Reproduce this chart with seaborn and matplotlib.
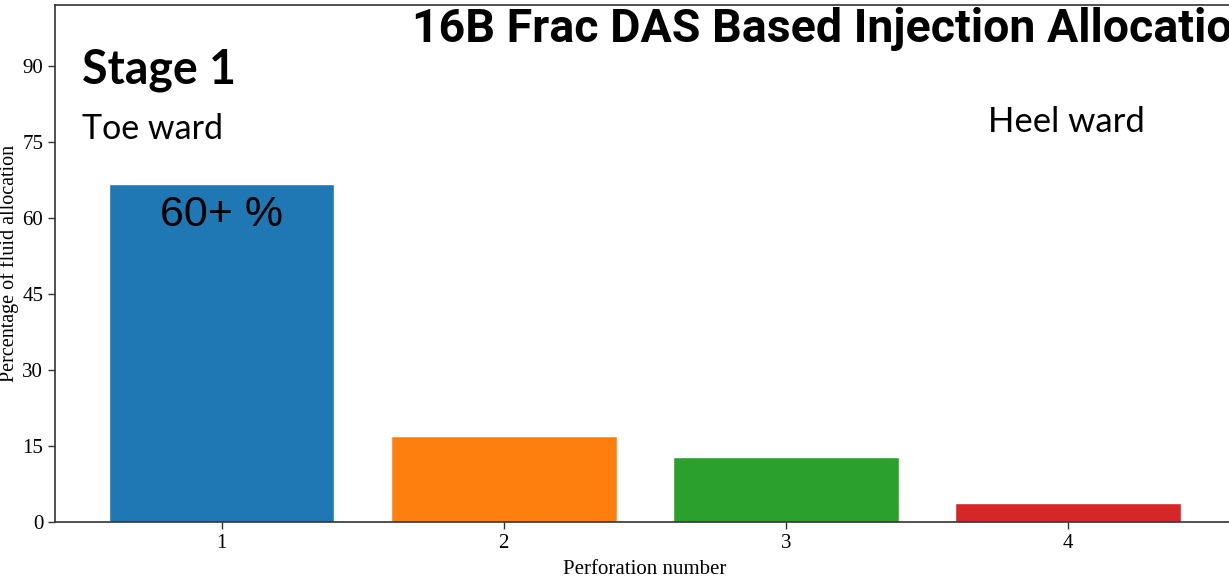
import matplotlib
matplotlib.use("Agg")
import matplotlib.pyplot as plt
import seaborn as sns
import pandas as pd

# data
perforations = ["1", "2", "3", "4"]
allocation = [66.7, 17.0, 12.8, 3.8]
bar_colors = ["#1f77b4", "#ff7f0e", "#2ca02c", "#d62728"]
y_ticks = [0, 15, 30, 45, 60, 75, 90]

sns.set_theme(style="ticks")
plt.rcParams.update({
    'font.family': ['Liberation Serif', 'DejaVu Serif'],
    'text.color': 'black',
    'axes.labelcolor': 'black',
    'axes.edgecolor': '#333333',
    'xtick.color': '#333333',
    'ytick.color': '#333333',
    'xtick.labelcolor': 'black',
    'ytick.labelcolor': 'black',
})

df = pd.DataFrame({"perf": perforations, "pct": allocation})

fig = plt.figure(figsize=(12.29, 5.79), dpi=100)
ax = fig.add_axes([0.0448, 0.0984, 0.9596, 0.8928])

sns.barplot(data=df, x="perf", y="pct", hue="perf", palette=bar_colors,
            saturation=1, width=0.8, legend=False, ax=ax)

ax.set_xlim(-0.59, 3.59)
ax.set_ylim(0, 102)
ax.set_yticks(y_ticks)
ax.tick_params(axis='both', labelsize=15, length=5, width=1)
ax.set_xlabel("Perforation number", fontsize=15, labelpad=5)
ax.set_ylabel("Percentage of fluid allocation", fontsize=14.5, labelpad=2)
ax.spines['right'].set_visible(False)
for s in ['left', 'bottom', 'top']:
    ax.spines[s].set_linewidth(1.2)

sans = ['Lato', 'DejaVu Sans']
fig.text(412 / 1229, 1 - 42 / 579, "16B Frac DAS Based Injection Allocation",
         family=['Roboto', 'DejaVu Sans'],
         fontweight='bold', fontsize=33.5, ha='left', va='baseline')
fig.text(82 / 1229, 1 - 84 / 579, "Stage 1", family=sans, fontweight='bold',
         fontsize=33.5, ha='left', va='baseline')
fig.text(82 / 1229, 1 - 139 / 579, "Toe ward", family=sans,
         fontsize=24.5, ha='left', va='baseline')
fig.text(988 / 1229, 1 - 132 / 579, "Heel ward", family=sans,
         fontsize=25, ha='left', va='baseline')
fig.text(160 / 1229, 1 - 226 / 579, "60+ %", family=['Liberation Sans', 'DejaVu Sans'],
         fontsize=31, ha='left', va='baseline')

fig.savefig("out.png", dpi=100)
